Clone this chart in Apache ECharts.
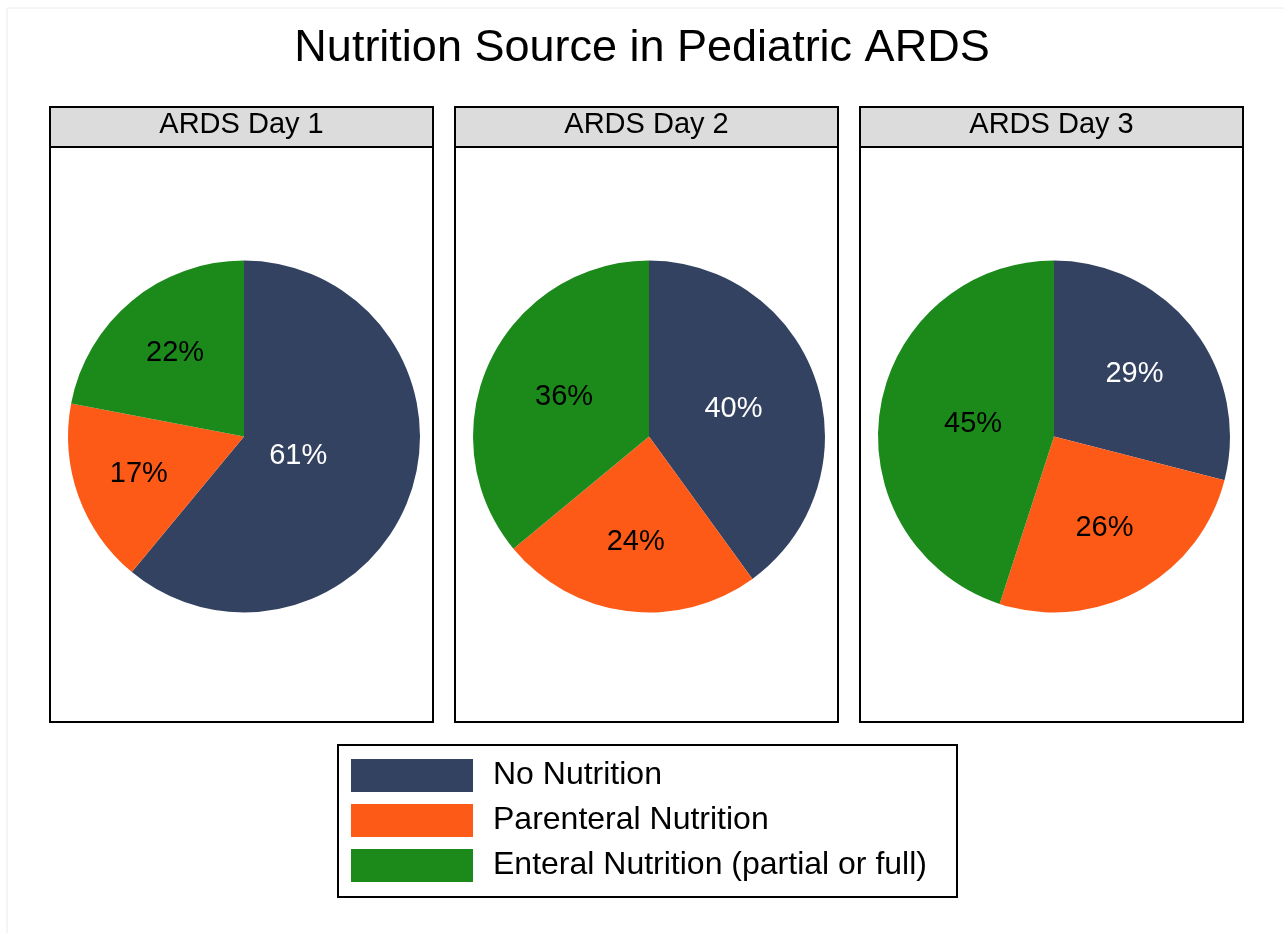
<!DOCTYPE html>
<html>
<head>
<meta charset="utf-8">
<script src="https://cdn.jsdelivr.net/npm/echarts@6/dist/echarts.min.js"></script>
<style>
html,body{margin:0;padding:0;background:#ffffff;}
#c{width:1284px;height:933px;}
</style>
</head>
<body>
<div id="c"></div>
<script>
// ---------- data ----------
const chartTitle = 'Nutrition Source in Pediatric ARDS';
const categories = ['No Nutrition', 'Parenteral Nutrition', 'Enteral Nutrition (partial or full)'];
const panelTitles = ['ARDS Day 1', 'ARDS Day 2', 'ARDS Day 3'];
const day1 = [61, 17, 22];
const day2 = [40, 24, 36];
const day3 = [29, 26, 45];
const dayValues = [day1, day2, day3];

// ---------- style ----------
const FONT = '"Liberation Sans", Arial, Helvetica, sans-serif';
const colors = ['#344262', '#FD5A18', '#1B8A1B'];
const labelColors = ['#ffffff', '#000000', '#000000'];
const panelLeft = [50, 455, 860];
const panelWidth = 383;
const headerTop = 107;
const headerHeight = 40;
const panelBottom = 722;
const pieCY = 436.5;
const pieR = 176;

function labelLayoutFor(vals, cx, cy, R) {
  const sum = vals.reduce((a, b) => a + b, 0);
  return function (p) {
    let cum = 0;
    for (let k = 0; k < p.dataIndex; k++) cum += vals[k];
    const v = vals[p.dataIndex];
    const mid = (cum + v / 2) / sum;
    const a = -Math.PI / 2 + 2 * Math.PI * mid;
    const half = Math.PI * v / sum;
    const f = (2 / 3) * Math.sin(half) / half;
    return {
      x: cx + f * R * Math.cos(a),
      y: cy + f * R * Math.sin(a),
      align: 'center',
      verticalAlign: 'middle'
    };
  };
}

const series = dayValues.map((vals, s) => {
  const cx = panelLeft[s] + 194;
  return {
    type: 'pie',
    name: panelTitles[s],
    center: [cx, pieCY],
    radius: pieR,
    startAngle: 90,
    clockwise: true,
    avoidLabelOverlap: false,
    silent: true,
    animation: false,
    itemStyle: { borderWidth: 0 },
    emphasis: { disabled: true },
    label: {
      show: true,
      position: 'inside',
      formatter: '{c}%',
      fontSize: 29,
      fontFamily: FONT,
      fontWeight: 'normal'
    },
    labelLine: { show: false },
    labelLayout: labelLayoutFor(vals, cx, pieCY, pieR),
    data: categories.map((name, i) => ({
      name: name,
      value: vals[i],
      itemStyle: { color: colors[i] },
      label: { color: labelColors[i] }
    }))
  };
});

const graphics = [
  { type: 'rect', z: -10, shape: { x: 7, y: 8, width: 1300, height: 940 },
    style: { fill: 'none', stroke: '#e6ecec', lineWidth: 1 } }
];
panelTitles.forEach((t, s) => {
  const x = panelLeft[s];
  graphics.push({
    type: 'rect', z: -5,
    shape: { x: x, y: headerTop, width: panelWidth, height: headerHeight },
    style: { fill: '#dcdcdc', stroke: '#000', lineWidth: 2 }
  });
  graphics.push({
    type: 'rect', z: -5,
    shape: { x: x, y: headerTop + headerHeight, width: panelWidth, height: panelBottom - headerTop - headerHeight },
    style: { fill: '#ffffff', stroke: '#000', lineWidth: 2 }
  });
  graphics.push({
    type: 'text', z: 10,
    x: x + panelWidth / 2, y: 125,
    style: { text: t, fill: '#000', fontSize: 29, fontFamily: FONT, align: 'center', verticalAlign: 'middle' }
  });
});
graphics.push({
  type: 'rect', z: -5,
  shape: { x: 338, y: 745, width: 619, height: 152 },
  style: { fill: '#ffffff', stroke: '#000', lineWidth: 2 }
});

const chart = echarts.init(document.getElementById('c'), null, { renderer: 'canvas' });
chart.setOption({
  backgroundColor: '#ffffff',
  animation: false,
  color: colors,
  title: {
    text: chartTitle,
    left: 'center',
    top: 21,
    textStyle: { fontSize: 45, fontWeight: 'normal', color: '#000', fontFamily: FONT }
  },
  legend: {
    data: categories,
    orient: 'vertical',
    left: 351,
    top: 759,
    padding: 0,
    itemWidth: 122,
    itemHeight: 33,
    itemGap: 12,
    icon: 'rect',
    selectedMode: false,
    textStyle: { fontSize: 32, color: '#000', fontFamily: FONT, padding: [0, 0, 0, 15] }
  },
  graphic: graphics,
  series: series
});
</script>
</body>
</html>
